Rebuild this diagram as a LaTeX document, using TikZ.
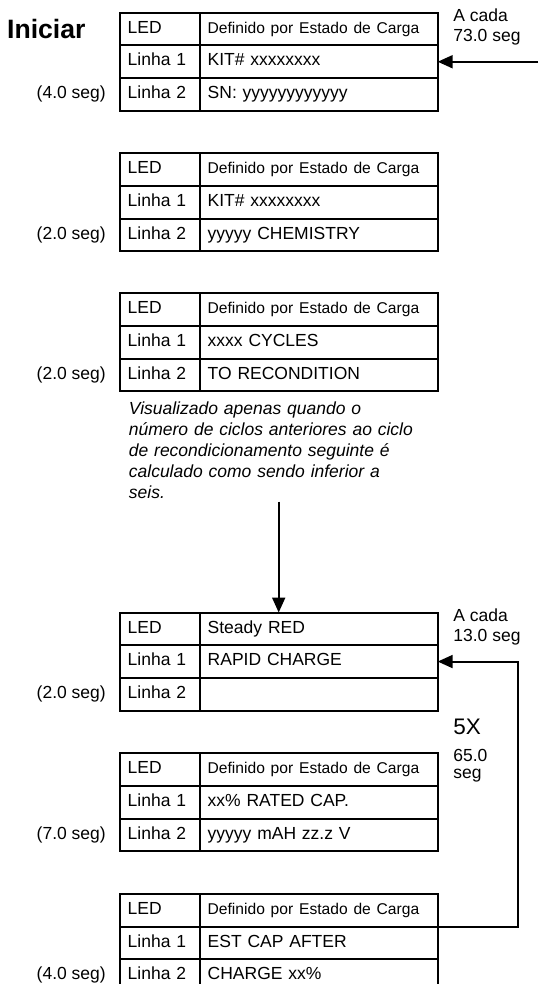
\documentclass[tikz,border=0pt]{standalone}
\usepackage{fontspec}
\setmainfont{Liberation Sans}
\usetikzlibrary{calc,positioning,arrows.meta}

\def\mainfont{\fontsize{17.5}{20}\selectfont}
\def\subfont{\fontsize{15.6}{18}\selectfont}

\begin{document}
\begin{tikzpicture}[x=1pt,y=-1pt,
  cell/.style={draw,line width=2pt,outer sep=0pt,inner xsep=8pt,inner ysep=0pt,
    minimum height=32.7pt,align=left,font=\mainfont,text height=12.5pt,text depth=4pt},
  cellL/.style={cell,text width=64pt},
  cellR/.style={cell,text width=222pt},
  secs/.style={inner sep=0pt,font=\mainfont,text height=12.5pt,text depth=4pt},
  side/.style={inner sep=0pt,align=left,font=\mainfont},
  arr/.style={line width=2pt,-{Triangle[length=15pt,width=13pt]}}]

\useasboundingbox (0,0) rectangle (538,984);

% the six display screens
\foreach \n/\y/\ta/\tb/\tc/\s in {
  t1/12.7/{\subfont Definido por Estado de Carga}/{KIT\# xxxxxxxx}/{SN: yyyyyyyyyyyy}/4.0,
  t2/153.3/{\subfont Definido por Estado de Carga}/{KIT\# xxxxxxxx}/{yyyyy CHEMISTRY}/2.0,
  t3/293.3/{\subfont Definido por Estado de Carga}/{xxxx CYCLES}/{TO RECONDITION}/2.0,
  t4/612.5/{Steady RED}/{RAPID CHARGE}/{}/2.0,
  t5/753.2/{\subfont Definido por Estado de Carga}/{xx\% RATED CAP.}/{yyyyy mAH zz.z V}/7.0,
  t6/893.9/{\subfont Definido por Estado de Carga}/{EST CAP AFTER}/{CHARGE xx\%}/4.0}
{
  \node[cellL,anchor=north west] (\n l1) at (119.7,\y) {LED};
  \node[cellR,right=0pt of \n l1] (\n r1) {\ta};
  \node[cellL,below=0pt of \n l1] (\n l2) {Linha 1};
  \node[cellR,right=0pt of \n l2] (\n r2) {\tb};
  \node[cellL,below=0pt of \n l2] (\n l3) {Linha 2};
  \node[cellR,right=0pt of \n l3] (\n r3) {\tc};
  \node[secs,left=13.7pt of \n l3] (\n s) {(\s\ seg)};
}

\node[inner sep=0pt,font=\fontsize{26.6}{30}\selectfont\bfseries,left=34pt of t1l1] (start) {Iniciar};

% repeat labels
\node[side,anchor=north west] (every73) at ([xshift=15.5pt,yshift=4pt]t1r1.north east) {A cada\\73.0 seg};
\node[side,anchor=north west] (every13) at ([xshift=15.5pt,yshift=4pt]t4r1.north east) {A cada\\13.0 seg};
\node[side,anchor=north west] (fivex) at ([xshift=15.5pt,yshift=34pt]t5r1.north east)
  {{\fontsize{22.5}{22}\selectfont 5X}\\[7pt]65.0\\[-3pt]seg};

\node[side,anchor=north west,font=\mainfont\itshape,text width=310pt,
  execute at begin node=\setlength{\baselineskip}{21pt}] (note)
  at ([xshift=9pt,yshift=-10pt]t3l3.south west)
  {Visualizado apenas quando o\\
   número de ciclos anteriores ao ciclo\\
   de recondicionamento seguinte é\\
   calculado como sendo inferior a\\
   seis.};

% connectors
\coordinate (in73) at ([xshift=100.5pt]t1r2.east);
\draw[arr] (in73) -- (t1r2.east);

\coordinate (t4top) at ($(t4l1.north west)!.5!(t4r1.north east)$);
\draw[arr] ([yshift=-3pt]note.south -| t4top) -- (t4top);

\draw[arr] (t6r2.north east) -- ++(80,0) |- (t4r2.east);

\end{tikzpicture}
\end{document}
